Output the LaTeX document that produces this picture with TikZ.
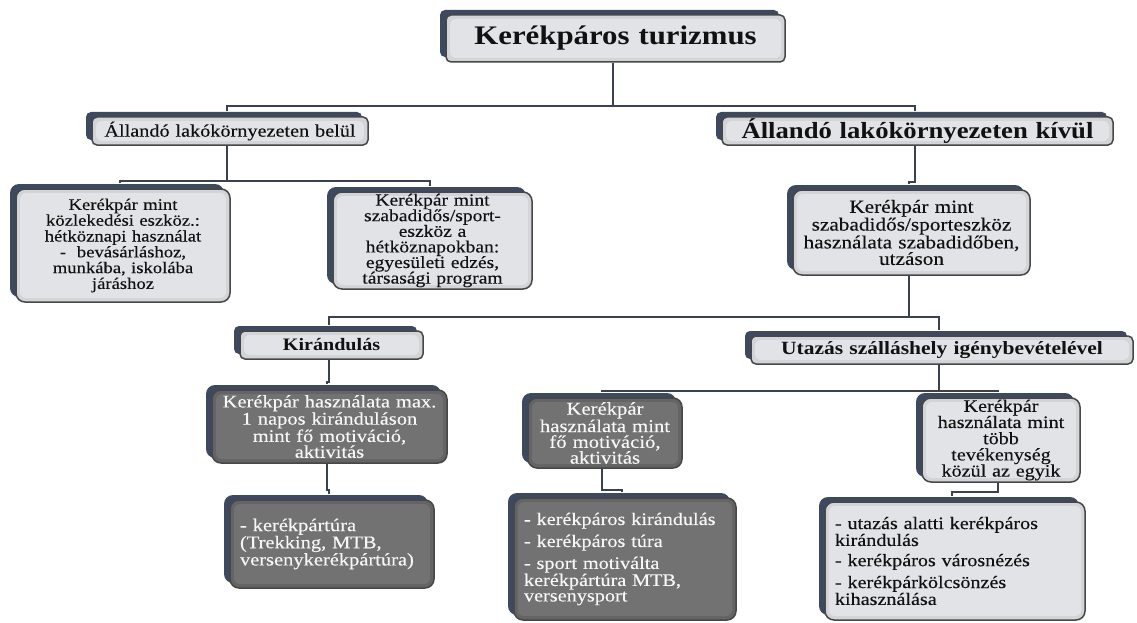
\documentclass[tikz,border=0pt]{standalone}
\usepackage{fontspec}
\setmainfont{Liberation Serif}[FakeStretch=1.15, UprightFeatures={FakeBold=0.25}]
\usetikzlibrary{shadows}

\definecolor{backnavy}{HTML}{3C495F}
\definecolor{lightfill}{HTML}{D3D4D8}
\definecolor{lightcore}{HTML}{E2E3E6}
\definecolor{darkfill}{HTML}{646464}
\definecolor{darkcore}{HTML}{727272}
\definecolor{edgegray}{HTML}{474747}
\definecolor{linkc}{HTML}{3A4150}
\definecolor{ink}{HTML}{111111}
\definecolor{paper}{HTML}{F7F7F7}

\tikzset{
  box/.style={rounded corners=9pt, draw=edgegray, line width=1.5pt, inner sep=0pt,
    align=center,
    general shadow={shadow xshift=-6pt, shadow yshift=5pt, fill=backnavy, draw=none}},
  core/.style={path picture={\fill[#1, rounded corners=6pt]
      ([shift={(4pt,4pt)}]path picture bounding box.south west) rectangle
      ([shift={(-4pt,-4pt)}]path picture bounding box.north east);}},
  lightbox/.style={box, fill=lightfill, core=lightcore, text=ink},
  darkbox/.style={box, fill=darkfill, core=darkcore, text=paper},
  headbox/.style={lightbox, rounded corners=5pt},
  listbox/.style={align=left, inner xsep=10pt},
  link/.style={draw=linkc, line width=2pt},
  fs/.style 2 args={font=\fontsize{#1pt}{#2pt}\selectfont},
  fb/.style 2 args={font=\fontsize{#1pt}{#2pt}\selectfont\bfseries},
}

\begin{document}
\begin{tikzpicture}[x=1pt,y=-1pt]
\useasboundingbox[fill=white] (0,0) rectangle (1137,623);

% level 0
\node[headbox, minimum width=339pt, minimum height=47pt, text width=339pt, fb={26.8}{28}]
  (T) at (615.5,38.5) {Kerékpáros turizmus};

% level 1
\node[headbox, minimum width=276pt, minimum height=28pt, text width=276pt, fs={17.6}{19}]
  (A) at (230,131) {Állandó lakókörnyezeten belül};
\node[headbox, minimum width=391pt, minimum height=28pt, text width=391pt, fb={23.2}{24}]
  (B) at (917.5,131) {Állandó lakókörnyezeten kívül};

% level 2
\node[lightbox, minimum width=214pt, minimum height=113pt, text width=214pt, fs={16.2}{15.8}]
  (C) at (123,245.5) {Kerékpár mint\\közlekedési eszköz.:\\hétköznapi használat\\-\ \ bevásárláshoz,\\munkába, iskolába\\járáshoz};
\node[lightbox, minimum width=199pt, minimum height=97pt, text width=199pt, fs={17}{15.6}]
  (D) at (432.5,240.5) {Kerékpár mint\\szabadidős/sport-\\eszköz a\\hétköznapokban:\\egyesületi edzés,\\társasági program};
\node[lightbox, minimum width=237pt, minimum height=85pt, text width=237pt, fs={18.5}{16.5}]
  (E) at (911.5,232.5) {Kerékpár mint\\szabadidős/sporteszköz\\használata szabadidőben,\\utzáson};

% level 3
\node[headbox, minimum width=183pt, minimum height=28pt, text width=183pt, fb={17.5}{19}]
  (F) at (331.5,345) {Kirándulás};
\node[headbox, minimum width=382pt, minimum height=28pt, text width=382pt, fb={18.7}{20}]
  (H) at (942,350) {Utazás szálláshely igénybevételével};

% level 4
\node[darkbox, minimum width=235pt, minimum height=73pt, text width=235pt, fs={17.8}{15.8}]
  (G) at (329.5,426.5) {Kerékpár használata max.\\1 napos kiránduláson\\mint fő motiváció,\\aktivitás};
\node[darkbox, minimum width=154pt, minimum height=70pt, text width=154pt, fs={18}{15.8}]
  (I) at (605,433) {Kerékpár\\használata mint\\fő motiváció,\\aktivitás};
\node[lightbox, minimum width=158pt, minimum height=84pt, text width=158pt, fs={17.5}{16.2}]
  (J) at (1001,440) {Kerékpár\\használata mint\\több\\tevékenység\\közül az egyik};

% level 5
\node[darkbox, listbox, minimum width=204pt, minimum height=88pt, text width=184pt, fs={17.8}{15.2}]
  (L) at (332,544) {- kerékpártúra\\(Trekking, MTB,\\versenykerékpártúra)};
\node[darkbox, listbox, minimum width=222pt, minimum height=122pt, text width=202pt, fs={17.6}{15.5}]
  (K) at (625,559) {- kerékpáros kirándulás\\[5pt]- kerékpáros túra\\[5pt]- sport motiválta\\kerékpártúra MTB,\\versenysport};
\node[lightbox, listbox, minimum width=260pt, minimum height=118pt, text width=240pt, fs={17.5}{15.2}]
  (M) at (955,561) {- utazás alatti kerékpáros\\kirándulás\\[5pt]- kerékpáros városnézés\\[5pt]- kerékpárkölcsönzés\\kihasználása};

% connectors
\draw[link] ([xshift=-3pt]T.south) -- ++(0,43) -| ([xshift=-3pt,yshift=5pt]A.north);
\draw[link] ([xshift=-3pt]T.south) -- ++(0,43) -| ([xshift=-3pt,yshift=5pt]B.north);
\draw[link] ([xshift=-3pt]A.south) -- ++(0,35) -| ([xshift=-3pt,yshift=5pt]C.north);
\draw[link] ([xshift=-3pt]A.south) -- ++(0,35) -| ([xshift=-3pt,yshift=5pt]D.north);
\draw[link] ([xshift=-3pt]B.south) -- ++(0,36) -| ([xshift=-3pt,yshift=5pt]E.north);
\draw[link] ([xshift=-3pt]E.south) -- ++(0,41) -| ([xshift=-3pt,yshift=5pt]F.north);
\draw[link] ([xshift=-3pt]E.south) -- ++(0,41) -| ([xshift=-3pt,yshift=5pt]H.north);
\draw[link] ([xshift=-3pt]F.south) -- ++(0,22) -| ([xshift=-3pt,yshift=5pt]G.north);
\draw[link] ([xshift=-3pt]H.south) -- ++(0,26) -| ([xshift=-3pt,yshift=5pt]I.north);
\draw[link] ([xshift=-3pt]H.south) -- ++(0,26) -| ([xshift=-3pt,yshift=5pt]J.north);
\draw[link] ([xshift=-3pt]G.south) -- ++(0,26) -| ([xshift=-3pt,yshift=5pt]L.north);
\draw[link] ([xshift=-3pt]I.south) -- ++(0,21) -| ([xshift=-3pt,yshift=5pt]K.north);
\draw[link] ([xshift=-3pt]J.south) -- ++(0,9) -| ([xshift=-3pt,yshift=5pt]M.north);
\end{tikzpicture}
\end{document}
